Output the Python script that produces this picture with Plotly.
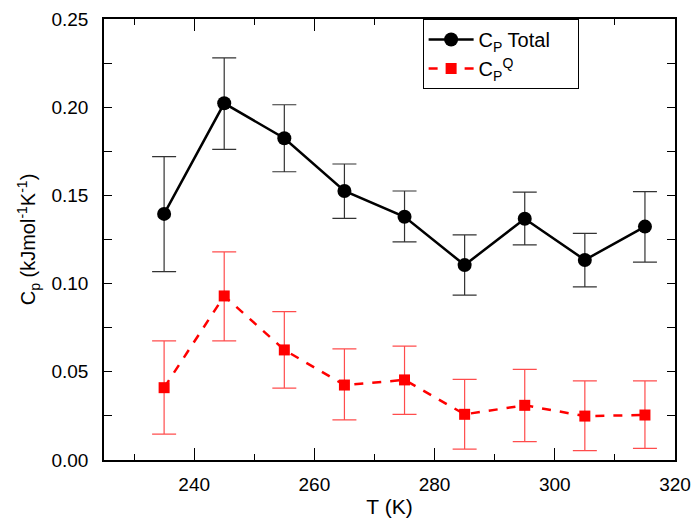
import plotly.graph_objects as go

T = [235, 245, 255, 265, 275, 285, 295, 305, 315]

cp_total = [0.1395, 0.2022, 0.1824, 0.1525, 0.1379, 0.1105, 0.1368, 0.1134, 0.1323]
cp_total_hi = [0.1720, 0.2280, 0.2014, 0.1678, 0.1525, 0.1276, 0.1518, 0.1285, 0.1521]
cp_total_lo = [0.1068, 0.1761, 0.1634, 0.1370, 0.1236, 0.0935, 0.1219, 0.0982, 0.1122]

cp_q = [0.0410, 0.0930, 0.0624, 0.0425, 0.0454, 0.0259, 0.0310, 0.0249, 0.0255]
cp_q_hi = [0.0675, 0.1180, 0.0841, 0.0630, 0.0646, 0.0457, 0.0514, 0.0448, 0.0448]
cp_q_lo = [0.0147, 0.0675, 0.0408, 0.0227, 0.0259, 0.0062, 0.0104, 0.0053, 0.0066]

up_t = [h - v for h, v in zip(cp_total_hi, cp_total)]
dn_t = [v - l for v, l in zip(cp_total, cp_total_lo)]
up_q = [h - v for h, v in zip(cp_q_hi, cp_q)]
dn_q = [v - l for v, l in zip(cp_q, cp_q_lo)]

font_family = "Liberation Sans, Arial, Helvetica, sans-serif"

fig = go.Figure()
fig.add_trace(go.Scatter(
    x=T, y=cp_total, mode="lines+markers",
    name="C<sub>P</sub> Total&nbsp;&nbsp;&nbsp;&nbsp;",
    line=dict(color="black", width=2.5),
    marker=dict(symbol="circle", size=14, color="black"),
    error_y=dict(type="data", symmetric=False, array=up_t, arrayminus=dn_t,
                 color="#333333", thickness=1.2, width=12),
))
fig.add_trace(go.Scatter(
    x=T, y=cp_q, mode="lines+markers",
    name="C<sub>P</sub><sup>Q</sup>",
    line=dict(color="red", width=2.5, dash="dash"),
    marker=dict(symbol="square", size=11, color="red"),
    error_y=dict(type="data", symmetric=False, array=up_q, arrayminus=dn_q,
                 color="rgba(255,0,0,0.7)", thickness=1.2, width=12),
))

fig.update_layout(
    width=696, height=518,
    margin=dict(l=104, r=21, t=19, b=58),
    paper_bgcolor="white", plot_bgcolor="white",
    font=dict(family=font_family, size=19, color="black"),
    showlegend=True,
    legend=dict(
        x=0.558, y=1.0, xanchor="left", yanchor="top",
        bordercolor="black", borderwidth=1, bgcolor="white",
        font=dict(size=20), itemwidth=45,
        tracegroupgap=15,
    ),
    xaxis=dict(
        range=[225, 320], dtick=20, tick0=240,
        showline=True, linecolor="black", linewidth=1.5, mirror="ticks",
        ticks="inside", ticklen=12, tickcolor="black", tickwidth=1.2,
        showgrid=False, zeroline=False, automargin=False,
        minor=dict(dtick=10, tick0=230, ticks="inside", ticklen=6, tickcolor="black", showgrid=False),
        title=dict(text="T (K)", font=dict(size=21), standoff=12),
        tickfont=dict(size=19),
        ticklabelstandoff=6,
    ),
    yaxis=dict(
        range=[0, 0.25], dtick=0.05, tickformat=".2f",
        showline=True, linecolor="black", linewidth=1.5, mirror="ticks",
        ticks="inside", ticklen=8, tickcolor="black", tickwidth=1.2,
        showgrid=False, zeroline=False, automargin=False,
        minor=dict(dtick=0.025, ticks="inside", ticklen=8, tickcolor="black", showgrid=False),
        title=dict(text="C<sub>p</sub> (kJmol<sup>-1</sup>K<sup>-1</sup>)", font=dict(size=20), standoff=10),
        tickfont=dict(size=19),
        ticklabelstandoff=10,
    ),
)

fig.write_html("out.html", config={"displayModeBar": False},
               post_script="document.body.style.margin='0';")
